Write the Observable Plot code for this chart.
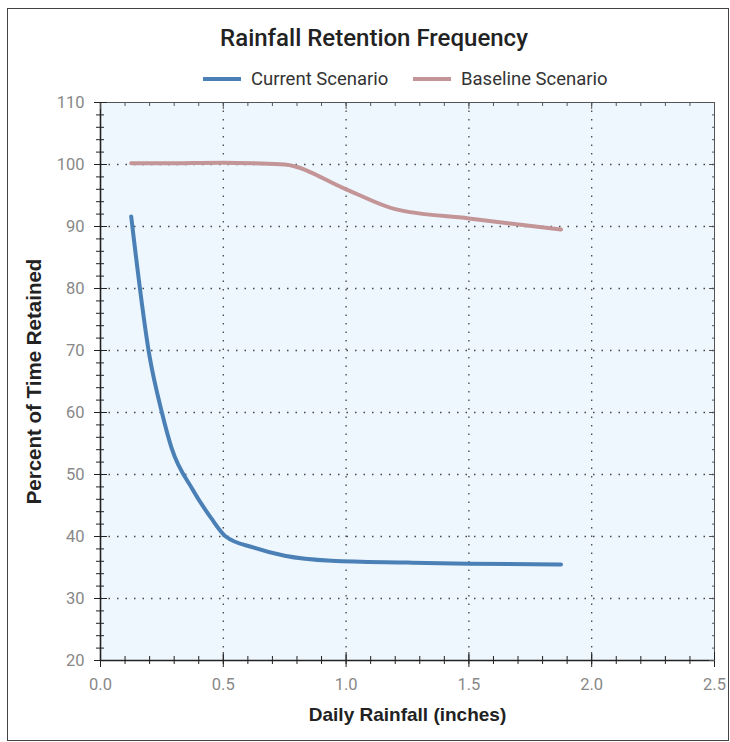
<!DOCTYPE html>
<html>
<head>
<meta charset="utf-8">
<script src="https://cdn.jsdelivr.net/npm/d3@7"></script>
<script src="https://cdn.jsdelivr.net/npm/@observablehq/plot@0.6"></script>
<style>
  html, body { margin: 0; padding: 0; background: #fff; }
  body { width: 730px; height: 742px; position: relative; overflow: hidden; font-family: "Liberation Sans", Arial, sans-serif; }
  #frame { position: absolute; left: 7px; top: 8px; width: 722px; height: 733px; border: 1px solid #444; box-sizing: border-box; }
  #title { position: absolute; left: 0; top: 24px; width: 748px; text-align: center; font-size: 24px; color: #222; font-family: Roboto, "Liberation Sans", sans-serif; font-weight: 500; }
  #legend { position: absolute; top: 67px; left: 0; width: 730px; height: 24px; }
  .li { position: absolute; top: 0; display: flex; align-items: center; font-size: 18.5px; color: #333; font-family: Roboto, "Liberation Sans", sans-serif; height: 24px; }
  .sw { display: inline-block; width: 38px; height: 4px; margin-right: 10px; }
  #chart { position: absolute; left: 0; top: 90px; }
  #chart svg { overflow: visible; }
</style>
</head>
<body>
<div id="frame"></div>
<div id="title">Rainfall Retention Frequency</div>
<div id="legend"></div>
<div id="chart"></div>
<script>
// Data
const seriesNames = ["Current Scenario", "Baseline Scenario"];
const seriesColors = ["#4a80b5", "#c39596"];
const currentX = [0.125, 0.2, 0.25, 0.29, 0.375, 0.45, 0.51, 0.625, 0.75, 0.94, 1.25, 1.5, 1.875];
const currentY = [91.6, 69, 60, 54.2, 47.6, 43, 40, 38.2, 36.9, 36.1, 35.8, 35.6, 35.5];
const baselineX = [0.125, 0.25, 0.5, 0.625, 0.75, 1.0, 1.2, 1.5, 1.875];
const baselineY = [100.2, 100.2, 100.3, 100.2, 100, 96, 92.8, 91.3, 89.5];
const xTicks = [0, 0.5, 1.0, 1.5, 2.0, 2.5];
const yTicks = [20, 30, 40, 50, 60, 70, 80, 90, 100, 110];
const xMinor = d3.range(0, 26).map(i => i / 10);
const yMinor = d3.range(20, 111, 2);

const current = currentX.map((x, i) => ({x, y: currentY[i], s: seriesNames[0]}));
const baseline = baselineX.map((x, i) => ({x, y: baselineY[i], s: seriesNames[1]}));

// Legend
const legend = document.getElementById("legend");
const legendLeft = [203, 413];
seriesNames.forEach((n, i) => {
  const d = document.createElement("div");
  d.className = "li";
  d.style.left = legendLeft[i] + "px";
  d.innerHTML = `<span class="sw" style="background:${seriesColors[i]}"></span>${n}`;
  legend.appendChild(d);
});

const tickColor = "#222";
const noText = {fill: "none", label: null};
const plot = Plot.plot({
  width: 730,
  height: 652,
  marginLeft: 100,
  marginRight: 16,
  marginTop: 12,
  marginBottom: 82,
  style: {background: "transparent", fontFamily: "Roboto, 'Liberation Sans', sans-serif"},
  x: {domain: [0, 2.5]},
  y: {domain: [20, 110]},
  marks: [
    Plot.frame({fill: "#eef6fe", stroke: null}),
    Plot.gridX(xTicks.slice(1, -1), {stroke: "#333", strokeOpacity: 0.9, strokeDasharray: "1.5,7", strokeWidth: 1.3}),
    Plot.gridY(yTicks.slice(1, -1), {stroke: "#333", strokeOpacity: 0.9, strokeDasharray: "1.5,7", strokeWidth: 1.3}),
    Plot.frame({stroke: "#555", strokeWidth: 1}),
    Plot.ruleY([20], {stroke: tickColor, strokeWidth: 1.6}),
    Plot.ruleX([0], {stroke: tickColor, strokeWidth: 1.6}),
    // bottom ticks
    Plot.axisX({anchor: "bottom", ticks: xMinor, tickSize: 4, stroke: tickColor, ...noText}),
    Plot.axisX({anchor: "bottom", ticks: xMinor, tickSize: -4, stroke: tickColor, ...noText}),
    Plot.axisX({anchor: "bottom", ticks: xTicks, tickSize: 7, tickPadding: 11, tickFormat: d3.format(".1f"), label: "Daily Rainfall (inches)", labelAnchor: "center", labelArrow: "none", labelOffset: 60, fontSize: 16.5, color: "#888", stroke: tickColor}),
    Plot.axisX({anchor: "bottom", ticks: xTicks, tickSize: -8, stroke: tickColor, ...noText}),
    // top ticks
    Plot.axisX({anchor: "top", ticks: xMinor, tickSize: -3, stroke: "#555", ...noText}),
    Plot.axisX({anchor: "top", ticks: xTicks, tickSize: -6, stroke: "#555", ...noText}),
    // left ticks
    Plot.axisY({anchor: "left", ticks: yMinor, tickSize: 4, stroke: tickColor, ...noText}),
    Plot.axisY({anchor: "left", ticks: yMinor, tickSize: -4, stroke: tickColor, ...noText}),
    Plot.axisY({anchor: "left", ticks: yTicks, tickSize: 6, tickPadding: 10, label: "Percent of Time Retained", labelAnchor: "center", labelArrow: "none", labelOffset: 74, fontSize: 16.5, color: "#888", stroke: tickColor}),
    Plot.axisY({anchor: "left", ticks: yTicks, tickSize: -7, stroke: tickColor, ...noText}),
    // right ticks
    Plot.axisY({anchor: "right", ticks: yMinor, tickSize: -3, stroke: "#555", ...noText}),
    Plot.axisY({anchor: "right", ticks: yTicks, tickSize: -6, stroke: "#555", ...noText}),
    Plot.line(baseline, {x: "x", y: "y", stroke: seriesColors[1], strokeWidth: 4, curve: "monotone-x"}),
    Plot.line(current, {x: "x", y: "y", stroke: seriesColors[0], strokeWidth: 4, curve: "monotone-x"})
  ]
});
document.getElementById("chart").appendChild(plot);

// style axis titles: bold, dark
plot.querySelectorAll("g[aria-label='x-axis label'] text").forEach(t => {
  t.setAttribute("fill", "#222");
  t.style.fontWeight = "bold";
  t.style.fontSize = "19px";
  t.style.fontFamily = "'Liberation Sans', Arial, sans-serif";
});
plot.querySelectorAll("g[aria-label='y-axis label'] text").forEach(t => {
  t.setAttribute("fill", "#222");
  t.style.fontWeight = "bold";
  t.style.fontSize = "20.5px";
  t.style.fontFamily = "'Liberation Sans', Arial, sans-serif";
});
</script>
</body>
</html>
